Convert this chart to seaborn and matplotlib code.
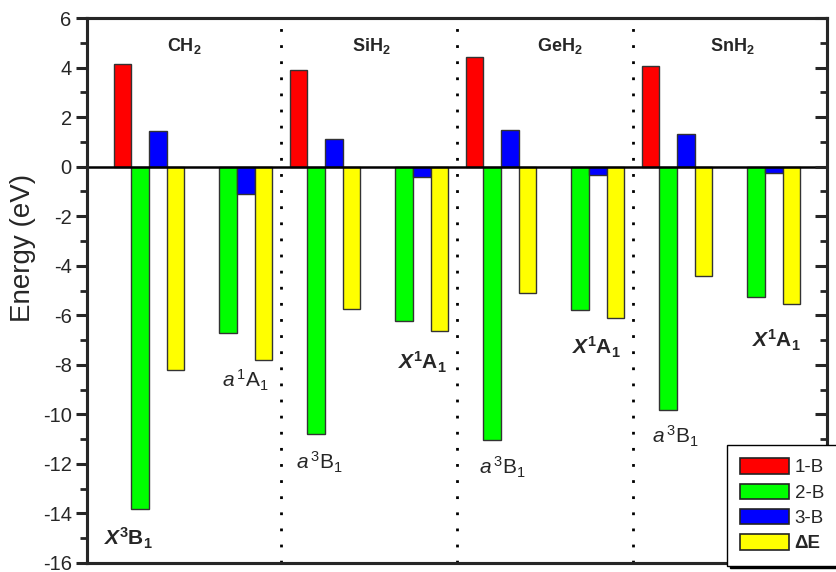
import numpy as np
import pandas as pd
import matplotlib
matplotlib.use("Agg")
import matplotlib.pyplot as plt
from matplotlib.patches import Patch
import seaborn as sns

# Energy components (eV) for each electronic state, two states per hydride
states = ["CH2 X3B1", "CH2 a1A1", "SiH2 a3B1", "SiH2 X1A1",
          "GeH2 a3B1", "GeH2 X1A1", "SnH2 a3B1", "SnH2 X1A1"]
one_b = [4.15, np.nan, 3.92, np.nan, 4.41, np.nan, 4.07, np.nan]
two_b = [-13.84, -6.71, -10.81, -6.22, -11.04, -5.77, -9.83, -5.28]
three_b = [1.45, -1.09, 1.12, -0.42, 1.49, -0.35, 1.33, -0.24]
delta_e = [-8.22, -7.81, -5.75, -6.64, -5.12, -6.13, -4.42, -5.55]

series_names = ["1-B", "2-B", "3-B", "ΔE"]
series_colors = ["#ff0000", "#00ff00", "#0000ff", "#ffff00"]

molecules = ["CH$_\\mathbf{2}$", "SiH$_\\mathbf{2}$", "GeH$_\\mathbf{2}$", "SnH$_\\mathbf{2}$"]
molecule_x = [0.40, 2.53, 4.67, 6.63]

state_labels = [
    r"$\mathbfit{X}^{\mathbf{3}}\mathbf{B}_{\mathbf{1}}$",
    r"$\mathit{a}^{\,1}\mathrm{A}_{1}$",
    r"$\mathit{a}^{\,3}\mathrm{B}_{1}$",
    r"$\mathbfit{X}^{\mathbf{1}}\mathbf{A}_{\mathbf{1}}$",
    r"$\mathit{a}^{\,3}\mathrm{B}_{1}$",
    r"$\mathbfit{X}^{\mathbf{1}}\mathbf{A}_{\mathbf{1}}$",
    r"$\mathit{a}^{\,3}\mathrm{B}_{1}$",
    r"$\mathbfit{X}^{\mathbf{1}}\mathbf{A}_{\mathbf{1}}$",
]
state_label_x = [-0.24, 1.10, 1.93, 3.11, 4.01, 5.08, 5.98, 7.13]
state_label_y = [-15.0, -8.63, -11.94, -7.9, -12.14, -7.3, -10.89, -7.02]

sns.set_style("ticks")
plt.rcParams["font.family"] = ["Liberation Sans", "DejaVu Sans"]
plt.rcParams["axes.unicode_minus"] = False
plt.rcParams["mathtext.fontset"] = "custom"
plt.rcParams["mathtext.rm"] = "Liberation Sans"
plt.rcParams["mathtext.it"] = "Liberation Sans:italic"
plt.rcParams["mathtext.bf"] = "Liberation Sans:bold"
plt.rcParams["mathtext.bfit"] = "Liberation Sans:italic:bold"

rows = []
for i in range(len(states)):
    for name, vals in zip(series_names, [one_b, two_b, three_b, delta_e]):
        rows.append({"state": i, "series": name, "energy": vals[i]})
df = pd.DataFrame(rows)

fig = plt.figure(figsize=(8.36, 5.72), dpi=100)
ax = fig.add_axes([87 / 836, 9 / 572, 740 / 836, 545 / 572])

sns.barplot(data=df, x="state", y="energy", hue="series",
            hue_order=series_names, palette=series_colors, saturation=1,
            order=list(range(len(states))), errorbar=None,
            width=0.8, edgecolor="#333333", linewidth=1.0,
            legend=False, ax=ax, zorder=2)

ax.set_xlim(-0.705, 7.705)
ax.set_ylim(-16, 6)
ax.set_xticks([])
ax.set_xlabel("")
ax.set_ylabel("")
ax.set_yticks(np.arange(-16, 7, 2))
ax.set_yticks(np.arange(-15, 6, 2), minor=True)
ax.tick_params(axis="y", which="major", direction="out", length=8, width=2.2,
               labelsize=14.5, right=False, pad=3)
ax.tick_params(axis="y", which="minor", direction="out", length=5, width=2.0, right=False)
for sp in ax.spines.values():
    sp.set_linewidth(2.2)
    sp.set_visible(True)

fig.text(23 / 836, 1 - 248 / 572, "Energy (eV)", rotation=90,
         ha="center", va="center", fontsize=20)

# inward ticks on the right-hand frame
ax2 = ax.twinx()
ax2.set_ylim(ax.get_ylim())
ax2.set_yticks(np.arange(-16, 7, 2))
ax2.set_yticks(np.arange(-15, 6, 2), minor=True)
ax2.tick_params(axis="y", which="major", direction="in", length=9, width=2.2,
                labelright=False)
ax2.tick_params(axis="y", which="minor", direction="in", length=5, width=2.0)
for sp in ax2.spines.values():
    sp.set_linewidth(2.2)

# zero line and molecule separators
ax.axhline(0, color="black", lw=1.8, zorder=5)
for xs in [1.5, 3.5, 5.5]:
    ax.axvline(xs, color="black", lw=2.0, linestyle=(0, (1, 4.8)), zorder=1)

for name, xm in zip(molecules, molecule_x):
    ax.text(xm, 4.85, name, ha="center", va="center", fontsize=13,
            fontweight="bold")

for lab, xl, yl in zip(state_labels, state_label_x, state_label_y):
    ax.text(xl, yl, lab, ha="center", va="center", fontsize=15)

handles = [Patch(facecolor=c, edgecolor="#222222", linewidth=1.2)
           for c in series_colors]
leg = fig.legend(handles, series_names, loc="upper left",
                 bbox_to_anchor=(727 / 836, 1 - 445 / 572),
                 bbox_transform=fig.transFigure, borderaxespad=0,
                 fontsize=13.5, frameon=True, fancybox=False,
                 shadow={"color": "black", "alpha": 1.0},
                 handlelength=2.6, handleheight=0.9, handletextpad=0.3,
                 labelspacing=0.38, borderpad=0.7)
leg.get_frame().set_edgecolor("black")
leg.get_frame().set_linewidth(1.0)
leg.get_frame().set_alpha(1.0)
leg.get_texts()[3].set_fontweight("bold")

fig.savefig("out.png", dpi=100)
